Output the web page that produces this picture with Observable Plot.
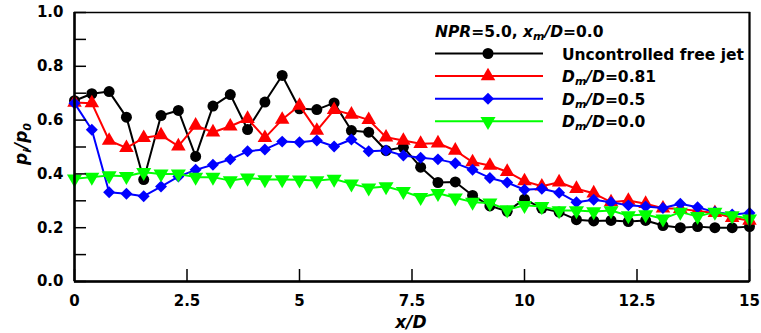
<!DOCTYPE html>
<html><head><meta charset="utf-8">
<script src="https://cdn.jsdelivr.net/npm/d3@7"></script>
<script src="https://cdn.jsdelivr.net/npm/@observablehq/plot@0.6"></script>
<style>
body{margin:0;background:#fff;}
svg{font-family:"DejaVu Sans",sans-serif;}
</style></head><body><div id="chart"></div>
<script>
// x/D stations
const xD = [0, 0.385, 0.769, 1.154, 1.538, 1.923, 2.308, 2.692, 3.077, 3.462,
  3.846, 4.231, 4.615, 5.0, 5.385, 5.769, 6.154, 6.538, 6.923, 7.308,
  7.692, 8.077, 8.462, 8.846, 9.231, 9.615, 10.0, 10.385, 10.769, 11.154,
  11.538, 11.923, 12.308, 12.692, 13.077, 13.462, 13.846, 14.231, 14.615, 15.0];
// p_i/p_0 values
const uncontrolled = [0.672, 0.698, 0.706, 0.611, 0.379, 0.617, 0.636, 0.465, 0.652, 0.695,
  0.565, 0.667, 0.766, 0.642, 0.639, 0.664, 0.561, 0.555, 0.487, 0.499,
  0.425, 0.368, 0.370, 0.320, 0.281, 0.261, 0.306, 0.272, 0.258, 0.230,
  0.225, 0.227, 0.223, 0.227, 0.208, 0.200, 0.204, 0.200, 0.200, 0.204];
const dm081 = [0.665, 0.663, 0.524, 0.497, 0.534, 0.544, 0.503, 0.580, 0.555, 0.577,
  0.605, 0.534, 0.602, 0.654, 0.561, 0.638, 0.621, 0.601, 0.536, 0.524,
  0.512, 0.514, 0.487, 0.444, 0.431, 0.408, 0.373, 0.354, 0.369, 0.345,
  0.328, 0.295, 0.301, 0.289, 0.272, 0.270, 0.262, 0.255, 0.237, 0.227];
const dm05 = [0.663, 0.564, 0.332, 0.326, 0.317, 0.353, 0.390, 0.415, 0.434, 0.454,
  0.484, 0.491, 0.520, 0.518, 0.524, 0.502, 0.528, 0.484, 0.487, 0.468,
  0.460, 0.454, 0.440, 0.415, 0.385, 0.368, 0.341, 0.345, 0.330, 0.295,
  0.304, 0.295, 0.283, 0.279, 0.273, 0.289, 0.276, 0.258, 0.249, 0.255];
const dm00 = [0.382, 0.388, 0.394, 0.391, 0.406, 0.400, 0.400, 0.388, 0.388, 0.375,
  0.385, 0.379, 0.379, 0.378, 0.375, 0.381, 0.363, 0.348, 0.353, 0.335,
  0.313, 0.328, 0.311, 0.295, 0.292, 0.267, 0.283, 0.279, 0.264, 0.264,
  0.260, 0.264, 0.245, 0.249, 0.233, 0.258, 0.242, 0.258, 0.245, 0.233];

const xTicks = [0, 2.5, 5, 7.5, 10, 12.5, 15];
const yTicks = [0, 0.1, 0.2, 0.3, 0.4, 0.5, 0.6, 0.7, 0.8, 0.9, 1.0];
const yTickLabels = ["0.0", "", "0.2", "", "0.4", "", "0.6", "", "0.8", "", "1.0"];
const seriesNames = ["Uncontrolled free jet", "Dm/D=0.81", "Dm/D=0.5", "Dm/D=0.0"];
const seriesValues = [uncontrolled, dm081, dm05, dm00];

// styles (separate from data)
const styles = [
  {color: "#000000", symbol: "circle", r: 5.5, rotate: 0, d3type: d3.symbolCircle},
  {color: "#ff0000", symbol: "triangle", r: 5.4, rotate: 0, d3type: d3.symbolTriangle},
  {color: "#0000ff", symbol: "diamond2", r: 5.4, rotate: 0, d3type: d3.symbolDiamond2},
  {color: "#00ff00", symbol: "triangle", r: 5.6, rotate: 180, d3type: d3.symbolTriangle}
];

const W = 761, H = 333, ML = 74, MR = 12, MT = 12, MB = 52, TICK = 12;

const tables = seriesNames.map((name, k) => xD.map((x, i) => ({x, y: seriesValues[k][i], s: name})));

const marks = [];
tables.forEach((rows, k) => {
  const st = styles[k];
  marks.push(Plot.line(rows, {x: "x", y: "y", stroke: st.color, strokeWidth: 2}));
  marks.push(Plot.dot(rows, {x: "x", y: "y", symbol: () => st.symbol, r: st.r, fill: st.color, stroke: "none", rotate: st.rotate}));
});

const chart = Plot.plot({
  width: W, height: H,
  marginLeft: ML, marginRight: MR, marginTop: MT, marginBottom: MB,
  x: {domain: [0, 15]},
  y: {domain: [0, 1]},
  style: {fontFamily: "DejaVu Sans", fontSize: "15px", fontWeight: "bold", color: "black", background: "white"},
  marks: [
    ...marks,
    Plot.frame({stroke: "black", strokeWidth: 1.5}),
    Plot.ruleX([0], {stroke: "black", strokeWidth: 2.5}),
    Plot.ruleX([15], {stroke: "black", strokeWidth: 2}),
    Plot.ruleY([0], {stroke: "black", strokeWidth: 2.5}),
    Plot.tickY(yTicks, {y: d => d, stroke: "black", strokeWidth: 1.5, insetRight: (W - ML - MR) - TICK}),
    Plot.tickX(xTicks, {x: d => d, stroke: "black", strokeWidth: 1.5, insetTop: (H - MT - MB) - TICK}),
    Plot.axisX({ticks: xTicks, tickSize: 0, tickPadding: 14, tickFormat: d => String(d),
      fontSize: 15, fontWeight: "bold", label: null}),
    Plot.axisY({ticks: yTicks, tickSize: 0, tickPadding: 11, tickFormat: (d, i) => yTickLabels[i],
      fontSize: 15, fontWeight: "bold", label: null})
  ]
});
document.getElementById("chart").appendChild(chart);

const svg = d3.select(chart);
// axis titles
svg.append("text").attr("x", 411).attr("y", 328).attr("text-anchor", "middle")
  .attr("font-size", 17).attr("font-weight", "bold").attr("font-style", "italic").attr("fill", "black")
  .text("x/D");
const yl = svg.append("text").attr("transform", "translate(27,144) rotate(-90)").attr("text-anchor", "middle")
  .attr("font-size", 17).attr("font-weight", "bold").attr("font-style", "italic").attr("fill", "black");
yl.append("tspan").text("p");
yl.append("tspan").attr("font-size", 11).attr("dy", 4).text("i");
yl.append("tspan").attr("dy", -4).text("/p");
yl.append("tspan").attr("font-size", 11).attr("dy", 4).text("0");

// legend
const lg = svg.append("g").attr("font-size", 15.5).attr("font-weight", "bold").attr("fill", "black")
  .attr("text-anchor", "start");
const hdr = lg.append("text").attr("x", 435).attr("y", 37);
hdr.append("tspan").attr("font-style", "italic").text("NPR");
hdr.append("tspan").text("=5.0, ");
hdr.append("tspan").attr("font-style", "italic").text("x");
hdr.append("tspan").attr("font-style", "italic").attr("font-size", 11).attr("dy", 3).text("m");
hdr.append("tspan").attr("font-style", "italic").attr("dy", -3).text("/D");
hdr.append("tspan").text("=0.0");

seriesNames.forEach((name, k) => {
  const st = styles[k];
  const cy = 53.5 + k * 22.6;
  lg.append("line").attr("x1", 435).attr("x2", 543).attr("y1", cy).attr("y2", cy)
    .attr("stroke", st.color).attr("stroke-width", 2);
  lg.append("path").attr("d", d3.symbol().type(st.d3type).size(Math.PI * st.r * st.r)())
    .attr("transform", `translate(488,${cy}) rotate(${st.rotate})`).attr("fill", st.color);
  const t = lg.append("text").attr("x", 562).attr("y", cy + 6);
  if (k === 0) {
    t.text(name);
  } else {
    const val = name.split("=")[1];
    t.append("tspan").attr("font-style", "italic").text("D");
    t.append("tspan").attr("font-style", "italic").attr("font-size", 11).attr("dy", 3).text("m");
    t.append("tspan").attr("font-style", "italic").attr("dy", -3).text("/D");
    t.append("tspan").text("=" + val);
  }
});
</script></body></html>
